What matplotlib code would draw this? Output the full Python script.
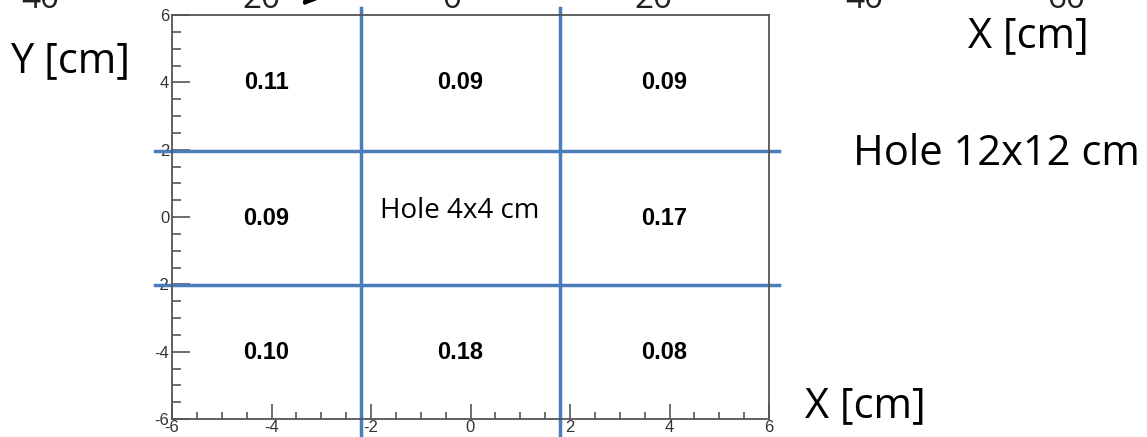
import matplotlib
matplotlib.use("Agg")
import matplotlib.pyplot as plt
from matplotlib.ticker import MultipleLocator
from matplotlib.font_manager import FontProperties

plt.rcParams["axes.unicode_minus"] = False

# cell contents, rows from top to bottom, columns left to right
row_vals = [
    ["0.11", "0.09", "0.09"],
    ["0.09", None, "0.17"],
    ["0.10", "0.18", "0.08"],
]
# inner hole edges (cm)
hole_x = [-2.2, 1.8]
hole_y = [-2.03, 1.97]
lim = 6
top_labels = ["40", "20", "0", "20", "40", "60"]
top_label_x = [40, 261, 452, 654, 864, 1066]

arial = FontProperties(family="Liberation Sans", stretch="normal", size=12)
arial_b = FontProperties(family="Liberation Sans", stretch="normal",
                         weight="bold", size=17)

W, H = 1147, 437
fig = plt.figure(figsize=(W / 100, H / 100), dpi=100)
ax = fig.add_axes([172 / W, 18 / H, 597 / W, 404 / H])
ax.set_xlim(-lim, lim)
ax.set_ylim(-lim, lim)

# ROOT-like frame: ticks inside, only left and bottom
for s in ax.spines.values():
    s.set_color("#555555")
    s.set_linewidth(1.3)
ax.xaxis.set_major_locator(MultipleLocator(2))
ax.xaxis.set_minor_locator(MultipleLocator(0.5))
ax.yaxis.set_major_locator(MultipleLocator(2))
ax.yaxis.set_minor_locator(MultipleLocator(0.5))
ax.tick_params(axis="both", which="both", direction="in", color="#555555",
               labelcolor="#333333", width=1.2)
ax.tick_params(axis="x", which="major", length=11, pad=1)
ax.tick_params(axis="x", which="minor", length=5)
ax.tick_params(axis="y", which="major", length=13, pad=2)
ax.tick_params(axis="y", which="minor", length=6.5)
ax.set_xticks(range(-6, 7, 2))
ax.set_yticks(range(-6, 7, 2))
ax.set_xticklabels([str(v) for v in range(-6, 7, 2)], fontproperties=arial)
ax.set_yticklabels([str(v) for v in range(-6, 7, 2)], fontproperties=arial)

blue = "#4a7ebb"
for xv in hole_x:
    ax.axvline(xv, ymin=-16 / 404, ymax=1 + 7 / 404, color=blue, lw=2.5,
               clip_on=False)
for yv in hole_y:
    ax.axhline(yv, xmin=-17 / 597, xmax=1 + 10 / 597, color=blue, lw=2.5,
               clip_on=False)

xedges = [-lim] + hole_x + [lim]
yedges = [lim] + hole_y[::-1] + [-lim]
for i, row in enumerate(row_vals):
    yc = (yedges[i] + yedges[i + 1]) / 2
    for j, v in enumerate(row):
        xc = (xedges[j] + xedges[j + 1]) / 2
        if v is None:
            continue
        ax.text(xc, yc, v, ha="center", va="center", fontproperties=arial_b)

big = "Open Sans"


def px(x, y):
    return x / W, 1 - y / H


fig.text(*px(380, 218), "Hole 4x4 cm", fontsize=20, family=big,
         ha="left", va="baseline")
fig.text(*px(853, 165), "Hole 12x12 cm", fontsize=30, family=big,
         ha="left", va="baseline")
fig.text(*px(968, 47), "X [cm]", fontsize=30, family=big,
         ha="left", va="baseline")
fig.text(*px(805, 417), "X [cm]", fontsize=30, family=big,
         ha="left", va="baseline")
fig.text(*px(10, 72), "Y [cm]", fontsize=30, family=big,
         ha="left", va="baseline")

# axis numbers of the plot above, cut by the top edge
for lab, xp in zip(top_labels, top_label_x):
    fig.text(*px(xp, 8), lab, fontsize=24, family=big, ha="center",
             va="baseline", color="#222222")
ax.annotate("", xy=px(300, 8), xycoords="figure fraction",
            xytext=px(330, -25), textcoords="figure fraction",
            arrowprops=dict(arrowstyle="-|>,head_length=1.6,head_width=0.8",
                            color="black", lw=3))

fig.savefig("out.png", dpi=100)
